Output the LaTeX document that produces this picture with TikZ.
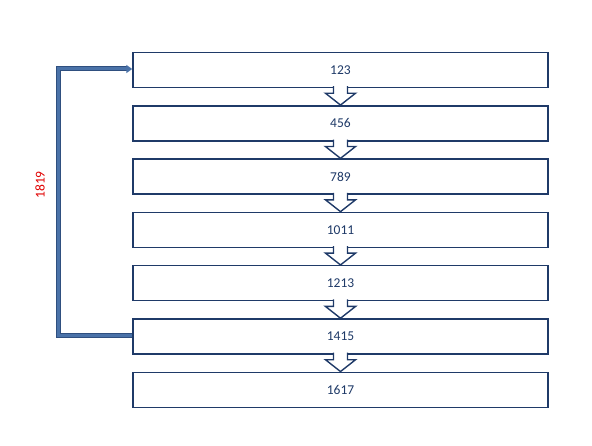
\documentclass[tikz,border=0pt]{standalone}
\usepackage{fontspec}
\setmainfont{Carlito}
\usetikzlibrary{arrows.meta,calc}
\definecolor{navy}{HTML}{1F3A68}
\definecolor{fb}{HTML}{4A72A8}
\definecolor{fbdark}{HTML}{2F4F7F}
\definecolor{lab}{HTML}{E00000}
\begin{document}
\begin{tikzpicture}[x=1pt,y=-1pt,
  stepbox/.style={draw=navy,line width=1.5pt,fill=white,minimum width=415pt,minimum height=35pt,inner sep=0pt,text=navy,font=\fontsize{13.5}{15}\selectfont},
  blockarrow/.style={draw=navy,line width=1.4pt,fill=white,line join=miter}]
\useasboundingbox (0,0) rectangle (592,446);
\foreach \t [count=\i] in {123,456,789,1011,1213,1415,1617} {
  \node[stepbox] (b\i) at (340.5, {70+53.3*(\i-1)}) {\t};
}
\foreach \i [evaluate=\i as \j using int(\i+1)] in {1,...,6} {
  \path (b\i.south) ++(0,-2) coordinate (s\i);
  \path (b\i.south) ++(0,5) coordinate (h\i);
  \draw[blockarrow] ($(s\i)+(-7,0)$) -- ($(h\i)+(-7,0)$) -- ($(h\i)+(-15,0)$) -- (b\j.north) -- ($(h\i)+(15,0)$) -- ($(h\i)+(7,0)$) -- ($(s\i)+(7,0)$);
}
\coordinate (c1) at (58, 336);
\coordinate (c2) at (58, 69);
\draw[fbdark,line width=5pt] (b6.west |- c1) -- (c1) -- (c2) -- ($(b1.west |- c2)+(-5,0)$);
\draw[fb,line width=3pt,-{Triangle[length=6pt,width=8pt]}] (b6.west |- c1) -- (c1) -- (c2) -- (b1.west |- c2);
\node[text=lab,rotate=90,font=\fontsize{13.5}{15}\selectfont] (lbl) at (40, 185) {1819};
\end{tikzpicture}
\end{document}
